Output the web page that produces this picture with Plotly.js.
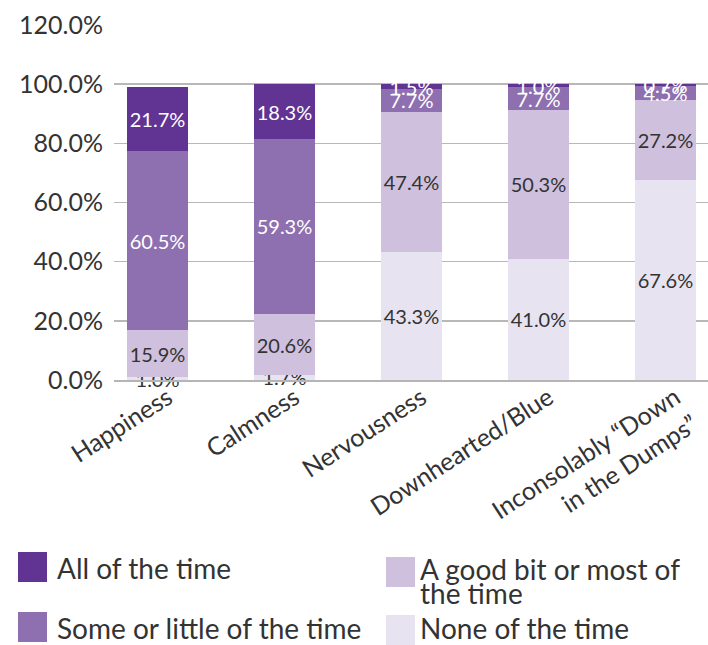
<!DOCTYPE html>
<html>
<head>
<meta charset="utf-8">
<script src="https://cdn.plot.ly/plotly-3.0.1.min.js"></script>
<style>
  html, body { margin: 0; padding: 0; background: #ffffff; }
  #chart { width: 708px; height: 645px; }
</style>
</head>
<body>
<div id="chart"></div>
<script>
// Feelings over the past month, share of respondents per response level
const categories = [
  "Happiness",
  "Calmness",
  "Nervousness",
  "Downhearted/Blue",
  "Inconsolably \u201cDown<br>in the Dumps\u201d"
];

// Series, stacked from the bottom up
const seriesNames = [
  "None of the time",
  "A good bit or most of the time",
  "Some or little of the time",
  "All of the time"
];
// Legend wording, one entry per line
const legendLines = [
  ["None of the time"],
  ["A good bit or most of", "the time"],
  ["Some or little of the time"],
  ["All of the time"]
];

const noneOfTheTime   = [1.0, 1.7, 43.3, 41.0, 67.6];
const goodBitOrMost   = [15.9, 20.6, 47.4, 50.3, 27.2];
const someOrLittle    = [60.5, 59.3, 7.7, 7.7, 4.5];
const allOfTheTime    = [21.7, 18.3, 1.5, 1.0, 0.7];

const yTickValues = [0, 20, 40, 60, 80, 100, 120];
const yTickLabels = ["0.0%", "20.0%", "40.0%", "60.0%", "80.0%", "100.0%", "120.0%"];

const seriesValues = [noneOfTheTime, goodBitOrMost, someOrLittle, allOfTheTime];
const colors = ["#E7E3F0", "#CFC0DD", "#8E6FB0", "#613393"];
const labelColors = ["#333333", "#333333", "#ffffff", "#ffffff"];

const FONT = "Lato, 'Open Sans', sans-serif";

const traces = seriesNames.map((name, i) => ({
  type: "bar",
  name: name,
  x: categories,
  y: seriesValues[i],
  marker: { color: colors[i], line: { width: 0 } },
  texttemplate: "%{y:.1f}%",
  textposition: "inside",
  insidetextanchor: "middle",
  textangle: 0,
  constraintext: "none",
  cliponaxis: false,
  textfont: { family: FONT, size: 20, color: labelColors[i] },
  hovertemplate: "%{x}<br>" + name + ": %{y:.1f}%<extra></extra>",
  showlegend: false
}));

// Plot area in pixels (for placing the hand-built legend)
const W = 708, H = 645;
const M = { l: 114, r: 0, t: 25, b: 265 };
const plotW = W - M.l - M.r, plotH = H - M.t - M.b;
const px2x = px => (px - M.l) / plotW;
const py2y = py => (H - M.b - py) / plotH;

// Legend: two columns, dark tones on the left, light tones on the right
const legendSlots = [
  { idx: 3, x: 18,  yTop: 552, textX: 56,  yText: 568 },
  { idx: 1, x: 386, yTop: 557, textX: 419, yText: 568.5 },
  { idx: 2, x: 18,  yTop: 612, textX: 56,  yText: 628 },
  { idx: 0, x: 386, yTop: 615, textX: 419, yText: 627.5 }
];
const swatch = { w: 29, h: 30 };
const legendLineStep = 24.5;

const shapes = legendSlots.map(s => ({
  type: "rect",
  xref: "paper", yref: "paper",
  x0: px2x(s.x), x1: px2x(s.x + swatch.w),
  y0: py2y(Math.min(s.yTop + swatch.h, H)), y1: py2y(s.yTop),
  fillcolor: colors[s.idx],
  line: { width: 0 },
  layer: "above"
}));

const annotations = [];
legendSlots.forEach(s => {
  legendLines[s.idx].forEach((line, k) => {
    annotations.push({
      xref: "paper", yref: "paper",
      x: px2x(s.textX), y: py2y(s.yText + k * legendLineStep),
      xanchor: "left", yanchor: "middle",
      align: "left",
      text: line,
      showarrow: false,
      borderpad: 0,
      font: { family: FONT, size: 28, color: "#333333" }
    });
  });
});

const layout = {
  width: W,
  height: H,
  margin: M,
  paper_bgcolor: "#ffffff",
  plot_bgcolor: "#ffffff",
  barmode: "stack",
  bargap: 0.52,
  showlegend: false,
  font: { family: FONT, color: "#333333" },
  xaxis: {
    type: "category",
    range: [-0.3425, 4.335],
    tickangle: -33,
    tickfont: { family: FONT, size: 25, color: "#333333" },
    ticklabelshift: 10,
    ticklabelstandoff: -8,
    showgrid: false,
    showline: true,
    linecolor: "#B5B5B5",
    linewidth: 1.5,
    ticks: "",
    automargin: false
  },
  yaxis: {
    range: [0, 120],
    tickmode: "array",
    tickvals: yTickValues,
    ticktext: yTickLabels,
    tickfont: { family: FONT, size: 25, color: "#333333" },
    showgrid: true,
    gridcolor: "#B8B8B8",
    gridwidth: 1.5,
    zeroline: false,
    showline: false,
    ticks: "",
    ticklabelstandoff: 10,
    automargin: false
  },
  shapes: shapes,
  annotations: annotations
};

Plotly.newPlot("chart", traces, layout, { displayModeBar: false, staticPlot: true });
</script>
</body>
</html>
